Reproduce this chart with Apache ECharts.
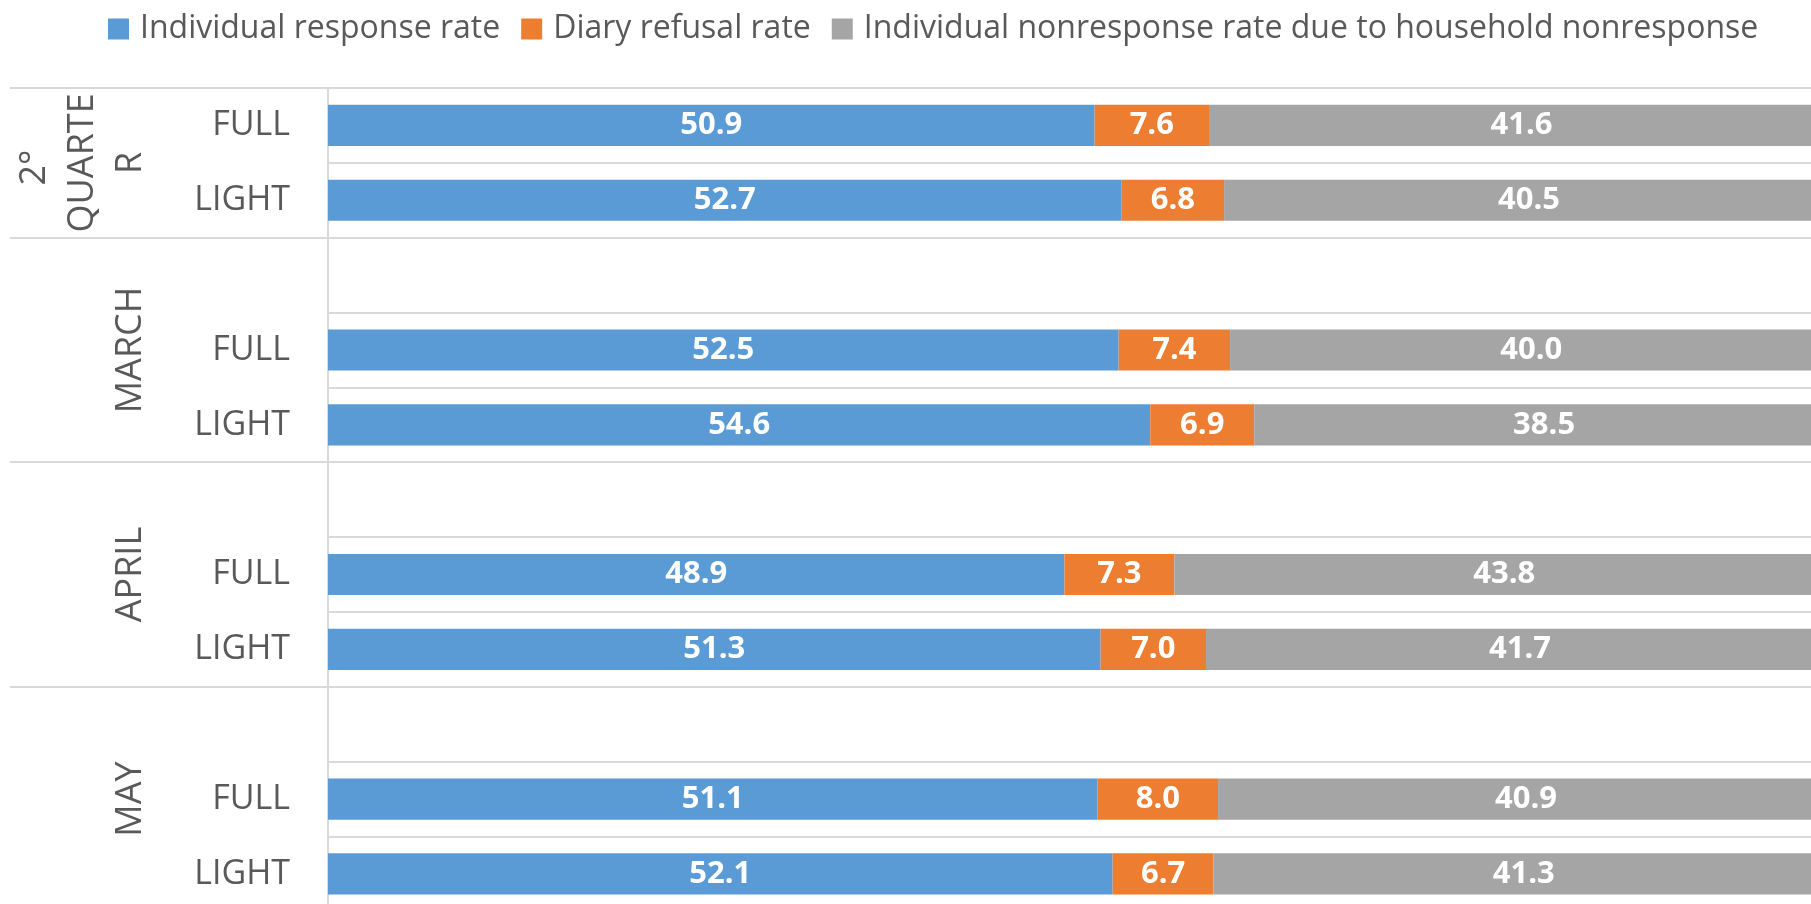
<!DOCTYPE html>
<html><head><meta charset="utf-8">
<script src="https://cdn.jsdelivr.net/npm/echarts@6/dist/echarts.min.js"></script>
<style>html,body{margin:0;padding:0;background:#fff}#c{width:1811px;height:904px}</style>
</head><body><div id="c"></div>
<script>
// ---- data ----
const categories = ['FULL','LIGHT','','FULL','LIGHT','','FULL','LIGHT','','FULL','LIGHT'];
const groupNames = ['2° QUARTER','MARCH','APRIL','MAY'];
const groupSizes = [2,3,3,3];
const seriesNames = ['Individual response rate','Diary refusal rate','Individual nonresponse rate due to household nonresponse'];
const responseRate     = [50.9, 52.7, null, 52.5, 54.6, null, 48.9, 51.3, null, 51.1, 52.1];
const refusalRate      = [7.6,  6.8,  null, 7.4,  6.9,  null, 7.3,  7.0,  null, 8.0,  6.7];
const householdNonresp = [41.6, 40.5, null, 40.0, 38.5, null, 43.8, 41.7, null, 40.9, 41.3];
const colors = ['#5B9BD5','#ED7D31','#A5A5A5'];

// ---- derived ----
const bounds = [0];
groupSizes.forEach(s => bounds.push(bounds[bounds.length-1] + s));
const centers = groupSizes.map((s,i) => bounds[i] + s/2);
const nCat = categories.length;
const fix = a => a.map(v => v == null ? '-' : v);

const FONT = "'Open Sans', 'Noto Sans', sans-serif";
const plotTop = 88, slot = 74.85, plotLeft = 328, plotWidth = 1506;
const chart = echarts.init(document.getElementById('c'), null, {renderer:'canvas'});

const mkBar = (name, data, i) => ({
  name, type:'bar', stack:'total', xAxisIndex:0, yAxisIndex:0,
  data: fix(data), barWidth:'55%',
  itemStyle:{color:colors[i]},
  label:{show:true, position:'inside', color:'#fff', fontFamily:FONT, fontWeight:'bold', fontSize:31,
         formatter: p => Number(p.value).toFixed(1)},
  emphasis:{disabled:true}
});

chart.setOption({
  animation:false,
  backgroundColor:'#fff',
  legend:{
    data: seriesNames, left:103, top:4, icon:'rect', itemWidth:21, itemHeight:21, itemGap:21,
    textStyle:{color:'#595959', fontFamily:FONT, fontSize:32, lineHeight:40, padding:[0,0,0,6]}
  },
  grid:[
    {left:plotLeft, top:plotTop, width:plotWidth, height:slot*nCat, containLabel:false, outerBoundsMode:'none'},
    {left:10, top:plotTop, width:plotLeft-10, height:slot*nCat, containLabel:false, outerBoundsMode:'none'}
  ],
  xAxis:[
    {gridIndex:0, type:'value', min:0, max:100, show:false},
    {gridIndex:1, type:'value', min:0, max:1, show:false}
  ],
  yAxis:[
    {gridIndex:0, type:'category', data:categories, inverse:true,
     axisLine:{show:true, lineStyle:{color:'#d9d9d9', width:2}},
     axisTick:{show:false},
     splitLine:{show:true, lineStyle:{color:'#d9d9d9', width:2}},
     axisLabel:{interval:0, margin:38, color:'#595959', fontFamily:FONT, fontSize:34}},
    {gridIndex:0, type:'value', min:0, max:nCat, inverse:true, position:'left', offset:plotLeft-163,
     axisLine:{show:false}, axisTick:{show:false}, splitLine:{show:false},
     axisLabel:{customValues:centers, rotate:90, margin:8, color:'#595959', fontFamily:FONT, fontSize:36,
       lineHeight:48, width:150, overflow:'break',
       formatter:(v) => { const i = centers.indexOf(v); return i >= 0 ? groupNames[i] : ''; }}},
    {gridIndex:1, type:'value', min:0, max:nCat, inverse:true, show:false}
  ],
  series:[
    mkBar(seriesNames[0], responseRate, 0),
    mkBar(seriesNames[1], refusalRate, 1),
    mkBar(seriesNames[2], householdNonresp, 2),
    {type:'line', xAxisIndex:1, yAxisIndex:2, data:[], silent:true,
     markLine:{silent:true, symbol:['none','none'], label:{show:false},
       lineStyle:{color:'#d9d9d9', width:2, type:'solid'},
       emphasis:{disabled:true},
       data: bounds.slice(0,-1).map(v => ({yAxis:v}))}}
  ]
});
</script></body></html>
